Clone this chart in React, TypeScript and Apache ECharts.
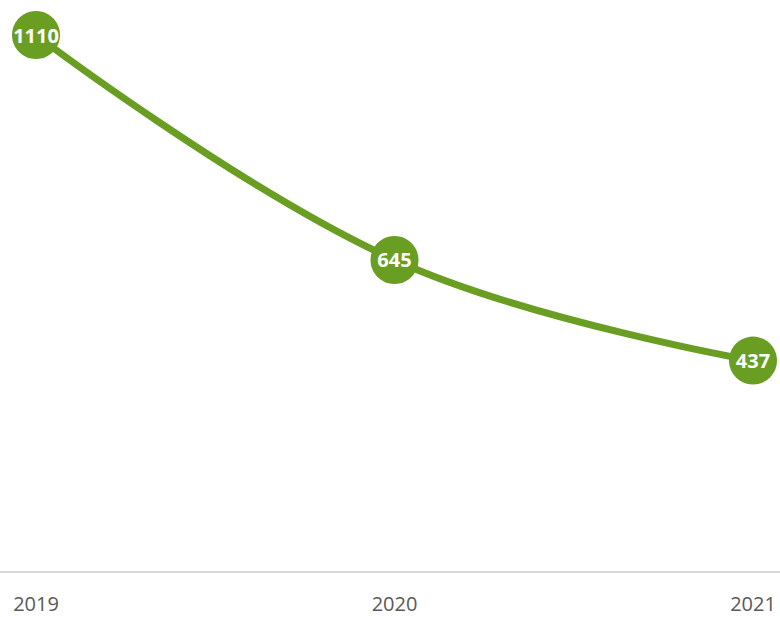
import React, { useEffect, useRef } from "react";
import * as echarts from "echarts";

const categories = ["2019", "2020", "2021"];
const values = [1110, 645, 437];

export default function App() {
  const ref = useRef<HTMLDivElement>(null);
  useEffect(() => {
    if (!ref.current) return;
    const chart = echarts.init(ref.current, null, { renderer: "svg" });
    chart.setOption({
      animation: false,
      grid: { left: 36, right: 27, top: 35, bottom: 45 },
      graphic: [
        {
          type: "line",
          shape: { x1: 0, y1: 572, x2: 780, y2: 572 },
          style: { stroke: "#d9d9d9", lineWidth: 2 },
          z: 0,
        },
      ],
      xAxis: {
        type: "category",
        data: categories,
        boundaryGap: false,
        axisLine: { show: false },
        axisTick: { show: false },
        axisLabel: {
          color: "#595959",
          fontSize: 20,
          fontFamily: "Open Sans",
          margin: 21,
        },
      },
      yAxis: {
        type: "value",
        min: 0,
        max: 1110,
        show: false,
        splitLine: { show: false },
      },
      series: [
        {
          type: "line",
          data: values,
          smooth: 0.4,
          symbol: "circle",
          symbolSize: 48,
          lineStyle: { color: "#6a9e23", width: 7 },
          itemStyle: { color: "#6a9e23" },
          label: {
            show: true,
            position: "inside",
            color: "#ffffff",
            fontWeight: "bold",
            fontSize: 20,
            fontFamily: "Open Sans",
          },
        },
      ],
    });
    return () => chart.dispose();
  }, []);
  return <div ref={ref} style={{ width: 780, height: 617, position: "absolute", left: 0, top: 0 }} />;
}
